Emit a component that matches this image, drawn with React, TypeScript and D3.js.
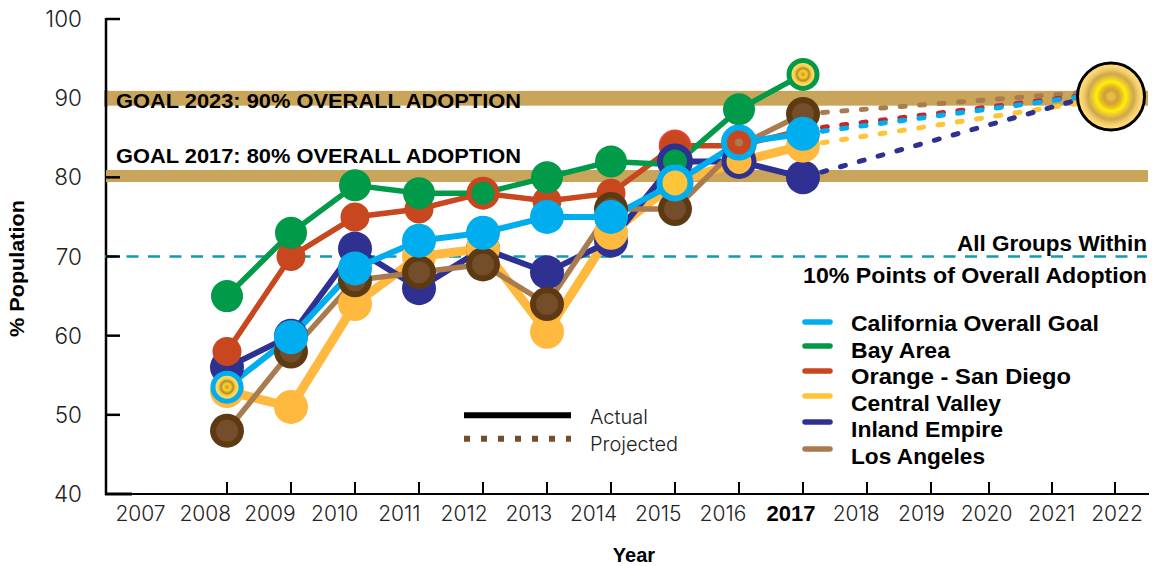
import React from "react";
import * as d3 from "d3";

const years = [2007,2008,2009,2010,2011,2012,2013,2014,2015,2016,2017,2018,2019,2020,2021,2022];
const actualYears = [2008,2009,2010,2011,2012,2013,2014,2015,2016,2017];
const overall = [53.5,59.8,68.5,72,73,75,75,79.3,84.4,85.5];
const bay = [65,73,79,78,78,80,82,81.6,88.6,93];
const orange = [58,70,75,76,78,77,78,84,84,86];
const central = [53,51,64,70,71,60.5,73,79.3,82,84];
const inland = [56,60,71,66,71,68,72,82,82,80];
const la = [48,58,67,68,69,64,76,76,84,88];
const yTicks = [40,50,60,70,80,90,100];
const goalLevels = [90,80];
const projectedEnd = {overall:90.7,orange:90.8,central:90,inland:91,la:91};
const legendNames = ["California Overall Goal","Bay Area","Orange - San Diego","Central Valley","Inland Empire","Los Angeles"];

const x = d3.scaleLinear().domain([2008,2019,2020,2022]).range([227,931,989,1115]);
const labelX = d3.scaleLinear().domain([2007,2016,2017,2022]).range([140.5,723,791,1117]);
const y = d3.scaleLinear().domain([40,100]).range([494,19]);
const line = d3.line<[number,number]>().x(d=>x(d[0])).y(d=>y(d[1]));
const path = (v:number[]) => line(actualYears.map((yr,i)=>[yr,v[i]] as [number,number])) as string;
const proj = (a:number,b:number) => line([[2017,a],[2021.95,b]]) as string;
const font = "'Liberation Sans', Arial, sans-serif";
const light = "Inter, 'Liberation Sans', sans-serif";
const C = {blue:"#00aeef",green:"#009a49",orange:"#c9471e",yellow:"#ffb93f",navy:"#2e3192",tan:"#a97c50",brownD:"#5d3a12",brownL:"#744d2a",band:"#c9a55c",red:"#c1272d",teal:"#0f9bb8"};

function Target({cx,cy,ring}:{cx:number,cy:number,ring:string}){
  return <g><circle cx={cx} cy={cy} r={14} fill="url(#tiny)" stroke={ring} strokeWidth={5}/></g>;
}
function dot(v:number[],fill:string,r:number,skip:number[]=[]){
  return actualYears.map((yr,i)=>skip.includes(yr)?null:<circle key={yr} cx={x(yr)} cy={y(v[i])} r={r} fill={fill}/>);
}
const idx=(yr:number)=>actualYears.indexOf(yr);
const legendY=[322,346,371,396,422,449];

export default function App(){
  return (
    <svg width={1152} height={566} style={{position:"absolute",left:0,top:0}} fontFamily={font}>
      <defs>
        <radialGradient id="sun">
          <stop offset="0" stopColor="#eec04e"/><stop offset=".1" stopColor="#e6b84a"/>
          <stop offset=".2" stopColor="#cfa034"/><stop offset=".32" stopColor="#e6bc28"/>
          <stop offset=".44" stopColor="#fff200"/><stop offset=".54" stopColor="#f0cc30"/>
          <stop offset=".68" stopColor="#cfa648"/><stop offset=".8" stopColor="#edc76c"/>
          <stop offset=".9" stopColor="#ffd870"/><stop offset="1" stopColor="#ffdc78"/>
        </radialGradient>
        <radialGradient id="tiny">
          <stop offset="0" stopColor="#c99a2e"/><stop offset=".25" stopColor="#ffd21f"/>
          <stop offset=".45" stopColor="#b08a3c"/><stop offset=".6" stopColor="#ffcf3a"/>
          <stop offset="1" stopColor="#fbe3a0"/>
        </radialGradient>
      </defs>

      <line x1={106} x2={106} y1={18} y2={495} stroke="#000" strokeWidth={2.5}/>
      <line x1={105} x2={1149} y1={y(40)} y2={y(40)} stroke="#000" strokeWidth={2}/>
      <line x1={105} x2={132} y1={y(40)} y2={y(40)} stroke="#000" strokeWidth={3}/>
      {goalLevels.map((g,i)=><rect key={g} x={i===0?104:106} width={i===0?1044:1042} y={y(g)-7.3} height={i===0?14.8:12} fill={C.band}/>)}
      <line x1={106} x2={106} y1={90} y2={107} stroke="#000" strokeWidth={2.5}/>
      <line x1={105} x2={1147} y1={y(70)} y2={y(70)} stroke={C.teal} strokeWidth={2.6} strokeDasharray="12 9.5"/>
      {yTicks.slice(1).filter(t=>t!==90).map(t=><line key={t} x1={106} x2={120} y1={y(t)} y2={y(t)} stroke="#000" strokeWidth={2.5}/>)}
      {yTicks.map(t=><text key={t} x={82} y={y(t)+8} textAnchor="end" fontFamily={light} fontWeight={300} fontSize={22.5} fill="#222">{t}</text>)}
      {years.slice(1).map(yr=><line key={yr} x1={x(yr)} x2={x(yr)} y1={482} y2={494} stroke="#000" strokeWidth={2}/>)}
      {years.map(yr=>
        <text key={yr} x={labelX(yr)} y={521} textAnchor="middle" fontFamily={yr===2017?font:light} fontSize={yr===2017?22:21} fontWeight={yr===2017?700:300} fill={yr===2017?"#000":"#222"}>{yr}</text>
      )}
      <text x={634} y={561.5} textAnchor="middle" fontSize={20} fontWeight={700}>Year</text>
      <text transform="translate(24,268.5) rotate(-90)" textAnchor="middle" fontSize={20} fontWeight={700} textLength={137} lengthAdjust="spacingAndGlyphs">% Population</text>

      <g fill="none" strokeLinecap="round" strokeWidth={5} strokeDasharray="5 14.5">
        <path d={proj(la[9],projectedEnd.la)} stroke={C.tan}/>
        <path d={proj(orange[9],projectedEnd.orange)} stroke={C.red}/>
        <path d={proj(overall[9],projectedEnd.overall)} stroke={C.blue}/>
        <path d={proj(central[9],projectedEnd.central)} stroke="#ffc438"/>
        <path d={proj(inland[9],projectedEnd.inland)} stroke={C.navy}/>
      </g>
      <circle cx={1111} cy={96.5} r={33.5} fill="url(#sun)" stroke="#000" strokeWidth={3}/>

      <text x={116} y={107.5} fontSize={20.5} fontWeight={700} textLength={405} lengthAdjust="spacingAndGlyphs">GOAL 2023: 90% OVERALL ADOPTION</text>
      <text x={116} y={162.7} fontSize={20.5} fontWeight={700} textLength={405} lengthAdjust="spacingAndGlyphs">GOAL 2017: 80% OVERALL ADOPTION</text>
      <text x={957} y={251} fontSize={22} fontWeight={700} textLength={190} lengthAdjust="spacingAndGlyphs">All Groups Within</text>
      <text x={803} y={283} fontSize={22} fontWeight={700} textLength={344} lengthAdjust="spacingAndGlyphs">10% Points of Overall Adoption</text>

      <g fill="none">
        <path d={path(central)} stroke={C.yellow} strokeWidth={9}/>
        <path d={path(inland)} stroke={C.navy} strokeWidth={6}/>
        <path d={path(la)} stroke={C.tan} strokeWidth={5.5}/>
        <path d={path(orange)} stroke={C.orange} strokeWidth={5.5}/>
        <path d={path(bay)} stroke={C.green} strokeWidth={5.5}/>
        <path d={path(overall)} stroke={C.blue} strokeWidth={6}/>
      </g>

      {dot(inland,C.navy,17,[2015,2016])}
      {dot(central,C.yellow,17,[2015,2016])}
      {dot(orange,C.orange,14.5,[2012,2015,2016])}
      <circle cx={x(2015)} cy={y(orange[idx(2015)])} r={15.5} fill={C.orange} stroke="#ee4037" strokeWidth={1.5}/>
      {dot(bay,C.green,16,[2012,2015,2017])}
      {actualYears.map((yr,i)=><g key={yr}><circle cx={x(yr)} cy={y(la[i])} r={17} fill={C.brownD}/><circle cx={x(yr)} cy={y(la[i])} r={11} fill={C.brownL}/></g>)}
      {dot(overall,C.blue,17,[2008,2015,2016])}

      <circle cx={x(2012)} cy={y(orange[idx(2012)])} r={14} fill={C.green} stroke={C.orange} strokeWidth={5}/>
      <circle cx={x(2015)} cy={y(inland[idx(2015)])} r={15} fill={C.green} stroke={C.navy} strokeWidth={6}/>
      <circle cx={x(2015)} cy={y(overall[idx(2015)])} r={15.5} fill="#ffc53a" stroke={C.blue} strokeWidth={6}/>
      <circle cx={x(2016)} cy={y(inland[idx(2016)])} r={15} fill={C.yellow} stroke={C.navy} strokeWidth={5}/>
      <circle cx={x(2016)} cy={y(overall[idx(2016)])} r={15} fill={C.orange} stroke={C.blue} strokeWidth={6}/>
      <circle cx={x(2016)} cy={y(overall[idx(2016)])} r={4} fill={C.tan}/>
      <Target cx={x(2008)} cy={y(overall[0])} ring={C.blue}/>
      <Target cx={x(2017)} cy={y(bay[9])} ring={C.green}/>

      <line x1={464} x2={571} y1={415.3} y2={415.3} stroke="#000" strokeWidth={6}/>
      <line x1={464} x2={571} y1={438.7} y2={438.7} stroke={C.brownL} strokeWidth={6} strokeDasharray="6 11"/>
      <text x={590} y={423.5} fontFamily={light} fontWeight={300} fontSize={20} fill="#222">Actual</text>
      <text x={590} y={450.5} fontFamily={light} fontWeight={300} fontSize={20} fill="#222">Projected</text>

      {legendNames.map((n,i)=>{
        const c=[C.blue,C.green,C.orange,"#ffc438",C.navy,C.tan][i];
        const widths=[248,99,220,150,152,134];
        return <g key={n}>
          <line x1={805} x2={830} y1={legendY[i]} y2={legendY[i]} stroke={c} strokeWidth={5.5} strokeLinecap="round"/>
          <text x={851} y={331+i*26.6} fontSize={21.5} fontWeight={700} textLength={widths[i]} lengthAdjust="spacingAndGlyphs">{n}</text>
        </g>;
      })}
    </svg>
  );
}
